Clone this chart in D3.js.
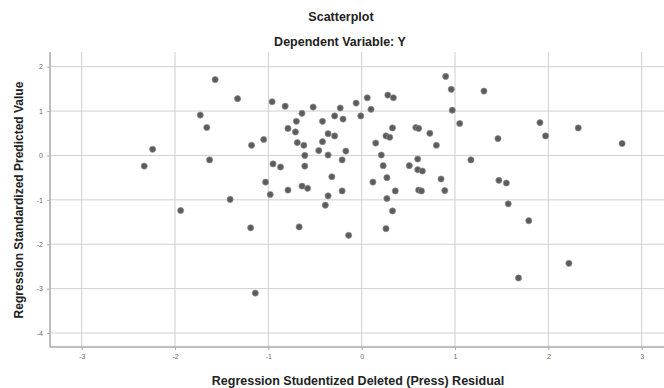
<!DOCTYPE html>
<html>
<head>
<meta charset="utf-8">
<script src="https://cdn.jsdelivr.net/npm/d3@7"></script>
<style>
  body { margin: 0; background: #fff; }
  svg { display: block; font-family: 'Liberation Sans', Arial, sans-serif; }
</style>
</head>
<body>
<div class="chart"></div>
<script>
// studentized deleted residual (x) vs standardized predicted value (y)
const residuals = [
  -1.57, -1.73, -1.66, -2.24, -2.33, -1.63, -1.41, -1.94, -1.33, -0.96,
  -1.05, -1.18, -0.95, -0.87, -1.03, -0.98, -0.82, -0.52, -0.64, -0.70,
  -0.42, -0.79, -0.71, -0.36, -0.29, -0.69, -0.62, -0.42, -0.46, -0.36,
  -0.61, -0.61, -0.64, -0.58, -0.79, -0.36, -0.39, -1.19, -0.67, -1.14,
  -0.32, 0.90, 0.96, 0.06, 0.28, 0.34, -0.06, -0.23, 0.10, 0.97,
  -0.29, -0.20, -0.01, 1.05, 0.33, 0.58, 0.61, 0.73, 0.26, 0.30,
  0.15, 0.80, -0.17, 0.21, 1.17, -0.21, 0.60, 0.23, 0.51, 0.60,
  0.65, 0.27, 0.85, 0.12, -0.21, 0.36, 0.27, 0.61, 0.64, 0.89,
  0.33, -0.14, 0.26, 1.31, 1.91, 2.32, 1.46, 1.97, 2.79, 1.47,
  1.55, 1.57, 1.79, 2.22, 1.68
];
const predicted = [
  1.71, 0.91, 0.63, 0.14, -0.24, -0.10, -0.99, -1.24, 1.28, 1.21,
  0.36, 0.23, -0.19, -0.26, -0.60, -0.88, 1.11, 1.09, 0.95, 0.77,
  0.77, 0.61, 0.53, 0.49, 0.44, 0.29, 0.23, 0.31, 0.11, 0.01,
  0.00, -0.24, -0.69, -0.74, -0.78, -0.91, -1.12, -1.63, -1.61, -3.10,
  -0.48, 1.78, 1.49, 1.30, 1.36, 1.30, 1.18, 1.07, 1.04, 1.02,
  0.89, 0.82, 0.89, 0.72, 0.62, 0.63, 0.61, 0.50, 0.44, 0.41,
  0.28, 0.23, 0.10, 0.01, -0.10, -0.10, -0.08, -0.23, -0.23, -0.32,
  -0.35, -0.50, -0.53, -0.60, -0.80, -0.80, -0.97, -0.78, -0.80, -0.79,
  -1.25, -1.80, -1.65, 1.45, 0.74, 0.62, 0.38, 0.44, 0.27, -0.56,
  -0.62, -1.09, -1.47, -2.43, -2.76
];
const xTicks = [-3, -2, -1, 0, 1, 2, 3];
const yTicks = [2, 1, 0, -1, -2, -3, -4];

const title = 'Scatterplot';
const subtitle = 'Dependent Variable: Y';
const xLabel = 'Regression Studentized Deleted (Press) Residual';
const yLabel = 'Regression Standardized Predicted Value';

const width = 664, height = 388;
const plot = { left: 50, top: 52, right: 664, bottom: 347 };

const svg = d3.select('.chart')
  .append('svg')
  .attr('width', width)
  .attr('height', height);

const xscale = d3.scaleLinear().domain([-3, 3]).range([81.7, 641.7]);
const yscale = d3.scaleLinear().domain([-4, 2]).range([333, 66.7]);

// grid
svg.append('g')
  .selectAll('line')
  .data(xTicks)
  .enter()
  .append('line')
  .attr('x1', d => xscale(d))
  .attr('x2', d => xscale(d))
  .attr('y1', plot.top)
  .attr('y2', plot.bottom)
  .attr('stroke', '#d0d0d0')
  .attr('stroke-width', 1);

svg.append('g')
  .selectAll('line')
  .data(yTicks)
  .enter()
  .append('line')
  .attr('x1', plot.left)
  .attr('x2', plot.right)
  .attr('y1', d => yscale(d))
  .attr('y2', d => yscale(d))
  .attr('stroke', '#d0d0d0')
  .attr('stroke-width', 1);

// axes
const x_axis = d3.axisBottom(xscale).tickValues(xTicks).tickSize(3).tickPadding(4);
const y_axis = d3.axisLeft(yscale).tickValues(yTicks).tickSize(3).tickPadding(4);

const gx = svg.append('g')
  .attr('transform', 'translate(0, ' + plot.bottom + ')')
  .call(x_axis);
gx.select('.domain').attr('d', 'M' + plot.left + ',0H' + plot.right);

const gy = svg.append('g')
  .attr('transform', 'translate(' + plot.left + ', 0)')
  .call(y_axis);
gy.select('.domain').attr('d', 'M0,' + plot.top + 'V' + plot.bottom);

[gx, gy].forEach(g => {
  g.select('.domain').attr('stroke', '#a8a8a8').attr('stroke-width', 1.5);
  g.selectAll('.tick line').attr('stroke', '#b0b0b0');
  g.selectAll('.tick text')
    .attr('fill', '#666')
    .style('font-size', '7px')
    .text(d => d < 0 ? '-' + Math.abs(d) : String(d));
});

// points
svg.append('g')
  .selectAll('circle')
  .data(residuals.map((x, i) => ({ x: x, y: predicted[i] })))
  .enter()
  .append('circle')
  .attr('cx', d => xscale(d.x))
  .attr('cy', d => yscale(d.y))
  .attr('r', 3.1)
  .attr('fill', '#5c5c5c')
  .attr('stroke', '#909090')
  .attr('stroke-width', 0.7);

// titles
svg.append('text')
  .attr('x', 341)
  .attr('y', 21)
  .attr('text-anchor', 'middle')
  .style('font-size', '12.5px')
  .style('font-weight', 'bold')
  .attr('fill', '#222')
  .text(title);

svg.append('text')
  .attr('x', 340)
  .attr('y', 46)
  .attr('text-anchor', 'middle')
  .style('font-size', '12.5px')
  .style('font-weight', 'bold')
  .attr('fill', '#222')
  .text(subtitle);

svg.append('text')
  .attr('x', 358)
  .attr('y', 385)
  .attr('text-anchor', 'middle')
  .style('font-size', '12.5px')
  .style('font-weight', 'bold')
  .attr('fill', '#222')
  .text(xLabel);

svg.append('text')
  .attr('transform', 'translate(23, 200) rotate(-90)')
  .attr('text-anchor', 'middle')
  .style('font-size', '12px')
  .style('font-weight', 'bold')
  .attr('fill', '#222')
  .text(yLabel);
</script>
</body>
</html>
